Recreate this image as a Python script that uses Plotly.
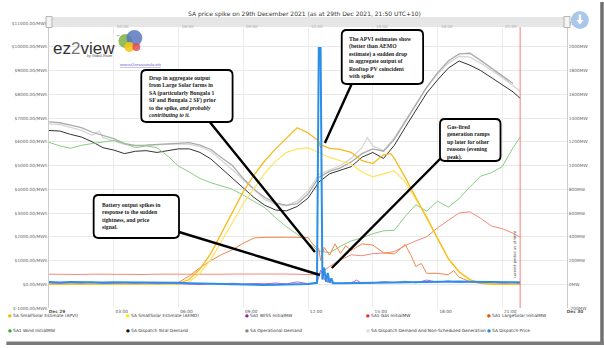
import plotly.graph_objects as go

DAY = "2021-12-29"


def ts(hm):
    return f"{DAY} {hm}"


# ---------------- data ----------------
T30 = [f"{h:02d}:{m:02d}" for h in range(22) for m in (0, 30)] + ["21:50"]

total_demand = [1295, 1290, 1262, 1240, 1200, 1150, 1130, 1100, 1120, 1125, 1110, 1125,
                1140, 1140, 1110, 1055, 975, 890, 810, 730, 665, 625, 618, 655, 725, 860,
                930, 960, 990, 1070, 1110, 1060, 1170, 1320, 1470, 1610, 1720, 1820, 1880,
                1845, 1800, 1740, 1675, 1620, 1565]

operational_t = T30[:-1]
operational = [1368, 1360, 1340, 1318, 1280, 1250, 1226, 1184, 1170, 1172, 1178, 1184,
               1192, 1192, 1172, 1135, 1065, 1000, 890, 800, 730, 685, 664, 678, 760, 900,
               950, 980, 1030, 1100, 1140, 1120, 1220, 1370, 1520, 1660, 1780, 1880, 1940,
               1945, 1885, 1820, 1760, 1690]

nonsched_t = ["00:00", "00:30", "01:00", "01:30", "02:00", "02:20", "02:30", "03:00", "03:30",
              "04:00", "04:30", "05:00", "05:30", "06:00", "06:30", "07:00", "07:30", "08:00",
              "08:30", "09:00", "09:30", "10:00", "10:30", "11:00", "11:30", "12:00", "12:30",
              "13:00", "13:30", "14:00", "14:30", "14:45", "15:00", "15:30", "16:00", "16:30",
              "17:00", "17:30", "18:00", "18:30", "19:00", "19:30", "20:00", "20:30", "21:00",
              "21:30", "21:50"]
nonsched = [1350, 1345, 1322, 1295, 1255, 1290, 1235, 1205, 1178, 1165, 1170, 1176, 1180,
            1182, 1178, 1158, 1118, 1045, 965, 880, 795, 712, 672, 662, 700, 785, 925, 965,
            1000, 1060, 1150, 1235, 1165, 1125, 1235, 1375, 1515, 1655, 1770, 1860, 1920,
            1912, 1862, 1802, 1742, 1672, 1625]

wind = [1195, 1165, 1145, 1170, 1185, 1195, 1210, 1185, 1150, 1165, 1150, 1080, 995, 945,
        890, 855, 825, 800, 750, 700, 645, 560, 485, 420, 350, 280, 265, 320, 365, 390, 425,
        450, 455, 570, 670, 615, 700, 650, 720, 820, 910, 940, 990, 1150, 1240]

gas = [85, 83, 84, 82, 85, 84, 82, 83, 84, 82, 85, 84, 83, 84, 86, 85, 84, 86, 87, 85, 86,
       88, 86, 84, 82, 80, 150, 205, 248, 240, 258, 262, 275, 325, 365, 400, 475, 540, 600,
       610, 555, 490, 468, 430, 395]

largesolar_t = T30[:25] + ["12:15", "12:30", "12:35", "12:45", "13:00", "13:15", "13:30",
                           "13:45", "14:00", "14:30", "15:00", "15:30", "16:00", "16:30",
                           "16:45", "17:00", "17:15", "17:30", "18:00", "18:30", "18:45",
                           "19:00", "19:30", "20:00", "20:30", "21:00", "21:30", "21:50"]
largesolar = [1, 0, 1, 0, 0, 1, 0, 0, 1, 0, 0, 1, 15, 70, 140, 200, 250, 290, 345, 390, 395,
              398, 396, 395, 393,
              330, 300, 200, 310, 245, 340, 260, 325, 285, 340, 330, 265, 255, 335, 250, 150,
              175, 92, 92, 80, 115, 60, 22, 8, 2, 0, 0, 0]

apvi_t = T30[:26] + ["12:35", "12:40", "13:00", "13:30", "14:00", "14:30", "15:00", "15:30",
                     "15:50", "16:00", "16:30", "17:00", "17:30", "18:00", "18:30", "19:00",
                     "19:30", "20:00", "20:30", "21:00", "21:30", "21:50"]
apvi = [0, 0, 0, 0, 0, 0, 0, 0, 0, 0, 0, 0, 5, 40, 130, 260, 430, 610, 780, 920, 1040, 1140,
        1230, 1318, 1275, 1205,
        1150, 1170, 1145, 1135, 1110, 1040, 1016, 1090, 1100, 1060, 900, 730, 563, 380, 215,
        105, 40, 10, 0, 0, 0, 0]

aemo = [0, 0, 0, 0, 0, 0, 0, 0, 0, 0, 0, 0, 0, 20, 95, 210, 360, 520, 680, 810, 935, 1035,
        1110, 1140, 1148, 1112, 1068, 1040, 1012, 945, 905, 930, 955, 860, 720, 570, 390, 220,
        100, 35, 8, 0, 0, 0, 0]

bess_t = ["00:00", "00:30", "01:00", "01:30", "02:00", "02:30", "03:00", "03:30", "04:00",
          "04:30", "05:00", "05:30", "06:00", "06:30", "07:00", "07:30", "08:00", "08:30",
          "09:00", "09:30", "10:00", "10:30", "11:00", "11:30", "12:00", "12:25", "12:30",
          "12:35", "12:40", "12:45", "12:50", "12:55", "13:00", "13:05", "13:30", "14:00",
          "14:15", "14:30", "15:00", "15:30", "16:00", "16:30", "17:00", "17:30", "18:00",
          "18:30", "19:00", "19:30", "20:00", "20:30", "21:00", "21:30", "21:50"]
bess = [12, 8, 15, 10, 18, 6, 10, 14, 8, 12, 5, 9, 4, 2, -3, 5, 3, 8, 2, 6, 4, 10, 3, 20, 5,
        8, 60, 118, 95, 40, 70, 15, 45, 10, 8, 12, 35, 8, 10, 22, 14, 25, 12, 35, 18, 28, 15,
        22, 12, 18, 10, 14, 8]

price_t = ["00:00", "00:30", "01:00", "01:30", "02:00", "02:30", "03:00", "03:30", "04:00",
           "04:30", "05:00", "05:30", "06:00", "06:30", "07:00", "07:30", "08:00", "08:30",
           "09:00", "09:30", "10:00", "10:30", "11:00", "11:30", "12:00", "12:25", "12:30",
           "12:35", "12:40", "12:45", "12:50", "12:55", "13:00", "13:05", "13:10", "13:30",
           "14:00", "14:30", "15:00", "15:30", "16:00", "16:30", "17:00", "17:30", "18:00",
           "18:30", "19:00", "19:30", "20:00", "20:30", "21:00", "21:30", "21:50"]
price = [90, 75, 95, 80, 85, 70, 80, 75, 70, 85, 90, 80, 60, 40, 30, 10, -10, -20, -30, -25,
         -30, -20, -10, 0, 10, 60, 9950, 9950, 200, 700, 100, 480, 60, 250, 40, 40, 50, 55, 60,
         70, 80, 90, 100, 95, 110, 130, 120, 110, 100, 95, 90, 85, 80]

x_tick_times = ["2021-12-29 00:00", "2021-12-29 03:00", "2021-12-29 06:00", "2021-12-29 09:00",
                "2021-12-29 12:00", "2021-12-29 15:00", "2021-12-29 18:00", "2021-12-29 21:00",
                "2021-12-30 00:00"]
x_tick_labels = ["<b>Dec 29</b>", "03:00", "06:00", "09:00", "12:00", "15:00", "18:00",
                 "21:00", "<b>Dec 30</b>"]
price_ticks = [-1000, 0, 1000, 2000, 3000, 4000, 5000, 6000, 7000, 8000, 9000, 10000, 11000]
price_labels = [f"${v}.00/MWh" for v in price_ticks]
mw_ticks = [-200, 0, 200, 400, 600, 800, 1000, 1200, 1400, 1600, 1800, 2000, 2200]
mw_labels = [f"{v}MW" for v in mw_ticks]

legend_names = ["SA SmallSolar Estimate (APVI)", "SA SmallSolar Estimate (AEMO)",
                "SA1 BESS InitialMW", "SA1 Gas InitialMW", "SA1 LargeSolar InitialMW",
                "SA1 Wind InitialMW", "SA Dispatch Total Demand", "SA Operational Demand",
                "SA Dispatch Demand And Non-Scheduled Generation", "SA Dispatch Price"]
legend_colors = ["#f5b800", "#ffe600", "#8e24aa", "#ef2b2b", "#e65100",
                 "#2eaa2e", "#111111", "#888888", "#dddddd", "#1e88e5"]

# ---------------- figure ----------------
W, H = 604, 348
L, R, T, B = 45, 567, 23, 308


def px(x):
    return (x - L) / (R - L)


def py(y):
    return (B - y) / (B - T)


fig = go.Figure()


def add_line(t, v, color, width, axis="y"):
    fig.add_trace(go.Scatter(x=[ts(s) for s in t], y=v, mode="lines",
                             line=dict(color=color, width=width), yaxis=axis,
                             showlegend=False, hoverinfo="skip"))


add_line(nonsched_t, nonsched, "#d6d6d6", 1.3)
add_line(operational_t, operational, "#ababab", 1.3)
add_line(T30, total_demand, "#333333", 1.0)
add_line(T30, wind, "#86cf7f", 1.0)
add_line(T30, gas, "#f58a7a", 1.0)
add_line(largesolar_t, largesolar, "#f3864a", 1.0)
add_line(T30, aemo, "#ffe45c", 1.2)
add_line(apvi_t, apvi, "#f7bb1e", 1.3)
add_line(bess_t, bess, "#b565d8", 1.0)
add_line(price_t, price, "#2b8ee8", 2.0, axis="y2")

shapes = []
annotations = []


def pth(points):
    return "M" + " L".join(f"{px(a):.5f},{py(b):.5f}" for a, b in points) + " Z"


# current period marker
shapes.append(dict(type="line", xref="x", yref="paper", x0=ts("21:50"), x1=ts("21:50"),
                   y0=0, y1=1, line=dict(color="rgba(240,120,120,0.6)", width=1.6)))
annotations.append(dict(xref="x", yref="paper", x=ts("21:50"), xshift=-6, y=py(280),
                        text="current period as at time", textangle=-90, showarrow=False,
                        font=dict(size=3.8, color="#555", family="DejaVu Sans")))

# navigator bar
shapes.append(dict(type="rect", xref="paper", yref="paper", x0=px(45), x1=px(567),
                   y0=py(27), y1=py(17), fillcolor="#e6e6e6", line=dict(width=0),
                   layer="above"))
for hx in (45, 567):
    shapes.append(dict(type="rect", xref="paper", yref="paper", x0=px(hx - 3), x1=px(hx + 3),
                       y0=py(27.5), y1=py(16.5), fillcolor="#f4f4f4",
                       line=dict(color="#999", width=0.7), layer="above"))
for tt, lab in zip(x_tick_times[1:-1], x_tick_labels[1:-1]):
    annotations.append(dict(xref="x", yref="paper", x=tt, y=py(22), xanchor="left",
                            xshift=1, text=lab, showarrow=False,
                            font=dict(size=4, color="#aaa", family="DejaVu Sans")))
# download button (circle with a drawn arrow)
shapes.append(dict(type="circle", xref="paper", yref="paper", x0=px(571), x1=px(589),
                   y0=py(29), y1=py(11), fillcolor="#a9c7e8", line=dict(width=0),
                   layer="above"))
shapes.append(dict(type="path", xref="paper", yref="paper", layer="above",
                   path=pth([(578.8, 14.5), (581.2, 14.5), (581.2, 20), (583.5, 20),
                             (580, 24.5), (576.5, 20), (578.8, 20)]),
                   fillcolor="white", line=dict(width=0)))

# logo
for cx, cy, r, col in [(122, 41, 7, "rgba(124,179,66,0.85)"), (131, 38, 8, "rgba(88,120,190,0.85)"),
                       (126, 47, 5, "rgba(245,197,24,0.9)"), (133, 47, 4, "rgba(224,80,80,0.85)")]:
    shapes.append(dict(type="circle", xref="paper", yref="paper", x0=px(cx - r), x1=px(cx + r),
                       y0=py(cy + r), y1=py(cy - r), fillcolor=col, line=dict(width=0),
                       layer="above"))
annotations.append(dict(xref="paper", yref="paper", x=px(48), y=py(37.5), xanchor="left",
                        text="ez<span style='color:#777'>2</span>view", showarrow=False,
                        borderpad=0,
                        font=dict(size=17, color="#333", family="Liberation Sans")))
annotations.append(dict(xref="paper", yref="paper", x=px(111), y=py(32), xanchor="left",
                        text="™", showarrow=False, font=dict(size=4, color="#555")))
annotations.append(dict(xref="paper", yref="paper", x=px(82), y=py(52.8), text="by Global-Roam",
                        showarrow=False, borderpad=0,
                        font=dict(size=3.5, color="#555", family="Liberation Sans")))
annotations.append(dict(xref="paper", yref="paper", x=px(116), y=py(62),
                        text="<u>www.ez2viewaustralia.info</u>", showarrow=False, borderpad=0,
                        font=dict(size=3.5, color="#6a5acd", family="Liberation Sans")))

# connectors
for (x0, y0, x1, y1) in [(207, 122, 313, 252), (350, 84, 323, 143),
                         (440, 158, 330, 268), (176, 232, 318, 275)]:
    shapes.append(dict(type="line", xref="paper", yref="paper", x0=px(x0), y0=py(y0),
                       x1=px(x1), y1=py(y1), line=dict(color="black", width=2.4),
                       layer="above"))


def rounded_box(x0, y0, x1, y1, r=5):
    pts = [("M", x0 + r, y0), ("L", x1 - r, y0), ("Q", x1, y0, x1, y0 + r),
           ("L", x1, y1 - r), ("Q", x1, y1, x1 - r, y1), ("L", x0 + r, y1),
           ("Q", x0, y1, x0, y1 - r), ("L", x0, y0 + r), ("Q", x0, y0, x0 + r, y0)]
    parts = []
    for p in pts:
        if p[0] == "Q":
            parts.append(f"Q{px(p[1]):.5f},{py(p[2]):.5f} {px(p[3]):.5f},{py(p[4]):.5f}")
        else:
            parts.append(f"{p[0]}{px(p[1]):.5f},{py(p[2]):.5f}")
    return " ".join(parts) + " Z"


boxes = [
    ((138, 70, 230, 122), (143.5, 73),
     "Drop in aggregate output<br>from Large Solar farms in<br>SA (particularly Bungala 1<br>"
     "SF and Bungala 2 SF) prior<br>to the spike, <i>and probably</i><br><i>contributing to it.</i>"),
    ((340, 30, 422, 84), (345.5, 34),
     "The APVI estimates show<br>(better than AEMO<br>estimate) a sudden drop<br>"
     "in aggregate output of<br>Rooftop PV coincident<br>with spike"),
    ((439, 119, 500, 161), (444.5, 122),
     "Gas-fired<br>generation ramps<br>up later for other<br>reasons (evening<br>peak)."),
    ((90, 195, 176, 238), (96, 200),
     "Battery output spikes in<br>response to the sudden<br>tightness, and price<br>signal."),
]
for (bx0, by0, bx1, by1), (tx, ty), txt in boxes:
    shapes.append(dict(type="path", xref="paper", yref="paper", path=rounded_box(bx0, by0, bx1, by1),
                       fillcolor="white", line=dict(color="black", width=1.8), layer="above"))
    annotations.append(dict(xref="paper", yref="paper", x=px(tx), y=py(ty), xanchor="left",
                            yanchor="top", align="left", text=f"<b>{txt}</b>", showarrow=False,
                            font=dict(size=5.7, color="#222", family="Liberation Serif")))

# title
annotations.append(dict(xref="paper", yref="paper", x=px(302), y=py(8),
                        text="SA price spike on 29th December 2021 (as at 29th Dec 2021, 21:50 UTC+10)",
                        showarrow=False, font=dict(size=6, color="#333", family="DejaVu Sans")))

# manual legend (dots + names)
leg_x = [2, 121, 240, 362, 484]
leg_y = [320, 335]
for i, (nm, col) in enumerate(zip(legend_names, legend_colors)):
    annotations.append(dict(xref="paper", yref="paper", x=px(leg_x[i % 5]), y=py(leg_y[i // 5]),
                            xanchor="left",
                            text=f"<span style='color:{col}'>●</span> {nm}", showarrow=False,
                            font=dict(size=4.3, color="#333", family="DejaVu Sans")))

# screenshot frame shadow
shapes.append(dict(type="rect", xref="paper", yref="paper", x0=px(600.5), x1=px(604),
                   y0=py(345), y1=py(2), fillcolor="#6f6f6f", line=dict(width=0)))
shapes.append(dict(type="rect", xref="paper", yref="paper", x0=px(2), x1=px(604),
                   y0=py(345), y1=py(341.5), fillcolor="#7a7a7a", line=dict(width=0)))

fig.update_layout(
    width=W, height=H,
    margin=dict(l=L, r=W - R, t=T, b=H - B),
    paper_bgcolor="white", plot_bgcolor="white",
    showlegend=False,
    font=dict(family="DejaVu Sans", size=4.3, color="#666"),
    xaxis=dict(range=["2021-12-29 00:00", "2021-12-30 00:00"], tickvals=x_tick_times,
               ticktext=x_tick_labels, showgrid=True, gridcolor="#ededed", gridwidth=1,
               zeroline=False, showline=False, ticks="", ticklabelshift=8,
               tickfont=dict(size=4.3, color="#555")),
    yaxis=dict(range=[-200, 2200], tickvals=mw_ticks, ticktext=mw_labels, side="right",
               showgrid=True, gridcolor="#e8e8e8", zeroline=False, showline=True,
               linecolor="#cccccc", ticks="", tickfont=dict(size=4.3, color="#666")),
    yaxis2=dict(range=[-1000, 11000], tickvals=price_ticks, ticktext=price_labels,
                side="left", overlaying="y", showgrid=False, zeroline=False, showline=True,
                linecolor="#cccccc", ticks="", tickfont=dict(size=4.3, color="#666")),
    shapes=shapes,
    annotations=annotations,
)

fig.write_html("out.html")
